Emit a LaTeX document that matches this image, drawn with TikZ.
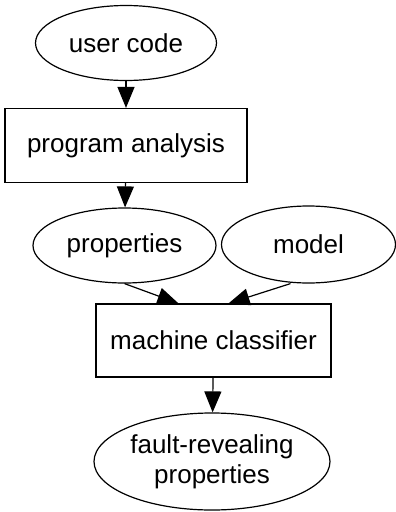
\documentclass[tikz,border=0pt]{standalone}
\usepackage{fontspec}
\setmainfont{Liberation Sans}
\usetikzlibrary{arrows.meta,shapes.geometric,positioning}

\begin{document}
\begin{tikzpicture}[x=1pt,y=-1pt,
	every node/.style={draw,line width=1.2pt,inner sep=0pt,align=center,font=\fontsize{26}{30}\selectfont},
	oval/.style={ellipse,minimum height=75pt},
	stagebox/.style={rectangle,minimum height=74pt},
	every path/.style={line width=1.2pt},
	>={Triangle[length=21pt,width=17pt]}]

	\useasboundingbox (0,0) rectangle (396,512);

	\node[oval,minimum width=181pt] (code) at (126,43) {user code};
	\node[stagebox,minimum width=242pt] (analysis) at (126,145.5) {program analysis};
	\node[oval,minimum width=183pt] (props) at (124.5,245.5) {properties};
	\node[oval,minimum width=174pt,minimum height=77pt] (model) at (308.5,244.5) {model};
	\node[stagebox,minimum width=235pt,minimum height=73pt] (classifier) at (213.5,340.5) {machine classifier};
	\node[oval,minimum width=236pt,minimum height=97pt] (faults) at (212,461.5) {fault-revealing\\properties};

	\draw[->] (code) -- (analysis);
	\draw[->] (analysis) -- (props);
	\draw[->] (props.south) -- ([xshift=-35pt]classifier.north);
	\draw[->] ([xshift=-18pt]model.south) -- ([xshift=15pt]classifier.north);
	\draw[->] (classifier) -- (faults);
\end{tikzpicture}
\end{document}
